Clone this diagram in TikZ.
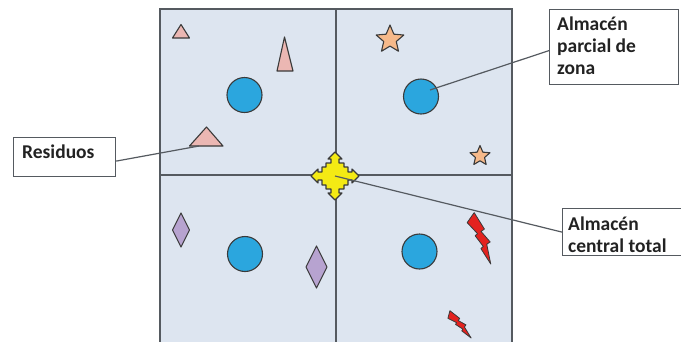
\documentclass[tikz,border=0pt]{standalone}
\usepackage{fontspec}
\setmainfont{Carlito}
\usetikzlibrary{shapes.geometric}
\definecolor{bgq}{HTML}{DDE5F0}
\definecolor{gridc}{HTML}{555A60}
\definecolor{outl}{HTML}{3A3A3A}
\definecolor{circc}{HTML}{2BA6DE}
\definecolor{pinkc}{HTML}{EBB7B3}
\definecolor{starc}{HTML}{F6B98A}
\definecolor{lilac}{HTML}{B7A3D0}
\definecolor{boltc}{HTML}{E3221F}
\definecolor{yelc}{HTML}{F4EA14}
\definecolor{txtc}{HTML}{222222}
\tikzset{
  gridline/.style={draw=gridc, line width=1.2pt},
  shapeout/.style={draw=outl, line width=1.1pt, line join=round},
  zone/.style={circle, shapeout, fill=circc, minimum size=35pt, inner sep=0pt},
  tri/.style={shapeout, fill=pinkc},
  stargl/.style={star, star points=5, star point ratio=2.2, shapeout, fill=starc, inner sep=0pt},
  diam/.style={shapeout, fill=lilac},
  boltst/.style={draw=outl, line width=0.8pt, fill=boltc, line join=round},
  labelbox/.style={draw=gridc, line width=1.2pt, fill=white, rectangle, inner sep=0pt},
  lbl/.style={font=\fontsize{19.5}{22}\selectfont\bfseries, text=txtc, inner sep=0pt, align=left},
  conn/.style={draw=gridc, line width=1.2pt},
  bolt/.pic={\path[boltst] (-8,2) -- (2,-5) -- (6,14) -- (2,15) -- (7,28) -- (3,29) -- (0,49) -- (-4,31) -- (-1,30) -- (-5,17) -- (-2,16) -- cycle;}
}
\begin{document}
\begin{tikzpicture}[x=1pt,y=-1pt]
\useasboundingbox (0,0) rectangle (681,341);
\fill[white] (0,0) rectangle (681,341);
% quadrants
\fill[bgq] (160,9) rectangle (512,346);
\draw[gridline] (160,346) -- (160,9) -- (512,9) -- (512,346);
\draw[gridline] (336,9) -- (336,346);
\draw[gridline] (160,175) -- (512,175);
% circles
\node[zone] (c1) at (244.5,95) {};
\node[zone] (c2) at (421,96.5) {};
\node[zone] (c3) at (245,254) {};
\node[zone] (c4) at (419.5,251.5) {};
% triangles
\path[tri] (181,24.5) -- (189.5,38) -- (172.5,38) -- cycle;
\path[tri] (284.5,37) -- (293,71) -- (277,71) -- cycle;
\path[tri] (206.5,127) -- (223,146) -- (189.5,146) -- cycle;
% stars
\node[stargl, minimum size=29pt] (s1) at (390,39.5) {};
\node[stargl, minimum size=21pt] (s2) at (480,156) {};
% diamonds
\path[diam] (181,213) -- (189.5,230) -- (181,247) -- (172.5,230) -- cycle;
\path[diam] (316.5,246) -- (327,267) -- (316.5,288) -- (306,267) -- cycle;
% bolts
\pic[rotate=20] at (474,218) {bolt};
\pic[rotate=40, scale=0.64] at (451,314) {bolt};
% central store
\coordinate (ctr) at (335,176);
\path[shapeout, fill=yelc, shift={(ctr)}]
 (0,-24) -- (7,-17) -- (4,-17) -- (4,-13) -- (9,-13) -- (9,-9) -- (13,-9) -- (13,-4) -- (17,-4) -- (17,-7) -- (24,0)
 -- (17,7) -- (17,4) -- (13,4) -- (13,9) -- (9,9) -- (9,13) -- (4,13) -- (4,17) -- (7,17) -- (0,24)
 -- (-7,17) -- (-4,17) -- (-4,13) -- (-9,13) -- (-9,9) -- (-13,9) -- (-13,4) -- (-17,4) -- (-17,7) -- (-24,0)
 -- (-17,-7) -- (-17,-4) -- (-13,-4) -- (-13,-9) -- (-9,-9) -- (-9,-13) -- (-4,-13) -- (-4,-17) -- (-7,-17) -- cycle;
% label boxes
\node[labelbox, minimum width=102pt, minimum height=39pt, anchor=north west] (res) at (13,137) {};
\node[lbl, anchor=base west] (restxt) at (22,158) {Residuos};
\node[labelbox, minimum width=129pt, minimum height=75pt, anchor=north west] (par) at (549,9) {};
\node[lbl, anchor=north west] (partxt) at (557,17) {Almacén\\parcial de\\zona};
\node[labelbox, minimum width=130pt, minimum height=47pt, anchor=north west] (cen) at (562,208) {};
\node[lbl, anchor=north west] (centxt) at (568,217) {Almacén\\central total};
% connectors
\coordinate (trip) at (199,146);
\coordinate (c2p) at (430,90);
\draw[conn] (res.east) ++(0,4) coordinate (rese) (rese) -- (trip);
\draw[conn] (par.west) ++(0,3.5) coordinate (parw) (parw) -- (c2p);
\draw[conn] (ctr) -- (cen.west);
\end{tikzpicture}
\end{document}
